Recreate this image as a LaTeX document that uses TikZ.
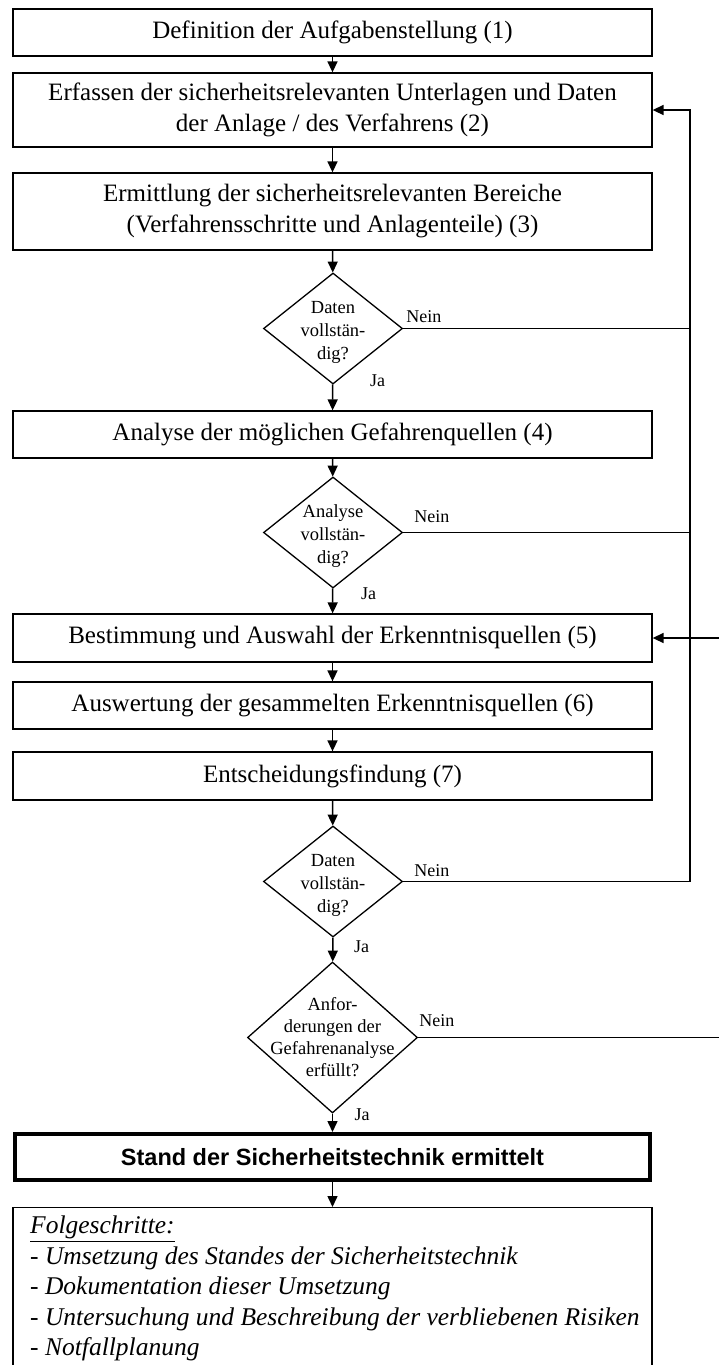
\documentclass[tikz,border=0pt]{standalone}
\usepackage{fontspec}
\setmainfont{Liberation Serif}
\newfontfamily\arialfont{Liberation Sans}
\usetikzlibrary{shapes.geometric,arrows.meta}
\begin{document}
\begin{tikzpicture}[x=1pt,y=-1pt,
  box/.style={draw, line width=1.3pt, minimum width=639pt, inner sep=0pt, align=center, font=\fontsize{25}{31}\selectfont},
  dia/.style={draw, diamond, line width=1.3pt, inner sep=0pt},
  dtext/.style={align=center, font=\fontsize{18.5}{23}\selectfont, inner sep=0pt},
  lbl/.style={font=\fontsize{18}{22}\selectfont, inner sep=0pt},
  arr/.style={line width=1.5pt, -{Triangle[length=11pt,width=10pt]}},
  ln/.style={line width=1.5pt},
]
\useasboundingbox (0,0) rectangle (718,1365);
\fill[white] (0,0) rectangle (718,1365);

% boxes
\node[box, minimum height=47pt] (b1) at (332.5,32.5) {Definition der Aufgabenstellung (1)};
\node[box, minimum height=74pt] (b2) at (332.5,110) {Erfassen der sicherheitsrelevanten Unterlagen und Daten\\der Anlage / des Verfahrens (2)};
\node[box, minimum height=77pt] (b3) at (332.5,211.5) {Ermittlung der sicherheitsrelevanten Bereiche\\(Verfahrensschritte und Anlagenteile) (3)};
\node[box, minimum height=47pt] (b4) at (332.5,434.5) {Analyse der möglichen Gefahrenquellen (4)};
\node[box, minimum height=48pt] (b5) at (332.5,638) {Bestimmung und Auswahl der Erkenntnisquellen (5)};
\node[box, minimum height=47pt] (b6) at (332.5,705.5) {Auswertung der gesammelten Erkenntnisquellen (6)};
\node[box, minimum height=48pt] (b7) at (332.5,776) {Entscheidungsfindung (7)};

% decisions
\node[dia, minimum width=139pt, minimum height=111pt] (d1) at (333,328.5) {};
\node[dtext] at ([yshift=-4pt]d1.center) {Daten\\vollstän-\\dig?};
\node[dia, minimum width=139pt, minimum height=111pt] (d2) at (333,532.5) {};
\node[dtext] at ([yshift=-4pt]d2.center) {Analyse\\vollstän-\\dig?};
\node[dia, minimum width=139pt, minimum height=111pt] (d3) at (333,881.5) {};
\node[dtext] at ([yshift=-4pt]d3.center) {Daten\\vollstän-\\dig?};
\node[dia, minimum width=170pt, minimum height=151pt] (d4) at (332.5,1037.5) {};
\node[dtext, font=\fontsize{18.5}{22}\selectfont] at (d4.center) {Anfor-\\derungen der\\Gefahrenanalyse\\erfüllt?};

% result
\node[draw, line width=4pt, minimum width=635pt, minimum height=46pt, inner sep=0pt,
      font=\arialfont\bfseries\fontsize{23.5}{28}\selectfont] (st) at (332.5,1157) {Stand der Sicherheitstechnik ermittelt};

% follow-up box (cut off at the bottom)
\node[draw, line width=1.3pt, anchor=north, minimum width=639pt, minimum height=220pt, inner sep=0pt] (fo) at (332.5,1207) {};
\node[anchor=north west, align=left, inner sep=0pt, font=\itshape\fontsize{25.5}{30.5}\selectfont] (ft) at (30,1216)
 {\underline{Folgeschritte:}\\
  - Umsetzung des Standes der Sicherheitstechnik\\
  - Dokumentation dieser Umsetzung\\
  - Untersuchung und Beschreibung der verbliebenen Risiken\\
  - Notfallplanung};

% main flow
\draw[arr] (b1) -- (b2);
\draw[arr] (b2) -- (b3);
\draw[arr] (b3) -- (d1);
\draw[arr] (d1) -- (b4);
\draw[arr] (b4) -- (d2);
\draw[arr] (d2) -- (b5);
\draw[arr] (b5) -- (b6);
\draw[arr] (b6) -- (b7);
\draw[arr] (b7) -- (d3);
\draw[arr] (d3) -- (d4);
\draw[arr] (d4) -- (st);
\draw[arr] (st) -- (fo);

% feedback loops
\coordinate (rx) at (690,0);
\coordinate (rx2) at (721,0);
\draw[arr] (d3.east) -| (rx |- b2.east) -- (b2.east);
\draw[ln] (d1.east) -- (d1.east -| rx);
\draw[ln] (d2.east) -- (d2.east -| rx);
\draw[arr] (d4.east) -| (rx2 |- b5.east) -- (b5.east);

% labels
\node[lbl, anchor=base west] at ([shift={(3,-6)}]d1.east) {Nein};
\node[lbl, anchor=base west] at ([shift={(11,-10)}]d2.east) {Nein};
\node[lbl, anchor=base west] at ([shift={(11,-5)}]d3.east) {Nein};
\node[lbl, anchor=base west] at ([shift={(1,-11)}]d4.east) {Nein};
\node[lbl, anchor=base west] at ([shift={(37,2)}]d1.south) {Ja};
\node[lbl, anchor=base west] at ([shift={(28,11)}]d2.south) {Ja};
\node[lbl, anchor=base west] at ([shift={(21,15)}]d3.south) {Ja};
\node[lbl, anchor=base west] at ([shift={(22,7)}]d4.south) {Ja};
\end{tikzpicture}
\end{document}
